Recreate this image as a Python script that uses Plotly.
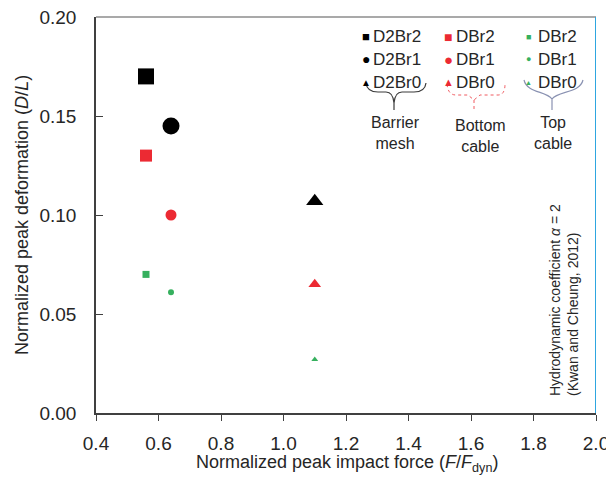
import plotly.graph_objects as go

# ---- data ----
names = ["D2Br2", "D2Br1", "D2Br0", "DBr2", "DBr1", "DBr0", "DBr2", "DBr1", "DBr0"]
groups = ["Barrier mesh"] * 3 + ["Bottom cable"] * 3 + ["Top cable"] * 3
force = [0.56, 0.64, 1.10, 0.56, 0.64, 1.10, 0.56, 0.64, 1.10]
deform = [0.170, 0.145, 0.107, 0.130, 0.100, 0.065, 0.070, 0.061, 0.027]

x_ticks = [0.4, 0.6, 0.8, 1.0, 1.2, 1.4, 1.6, 1.8, 2.0]
y_ticks = [0.00, 0.05, 0.10, 0.15, 0.20]

colors = {"Barrier mesh": "#000000", "Bottom cable": "#ec2a33", "Top cable": "#36b05e"}
symbols = {"2": "square", "1": "circle", "0": "triangle-up"}
sizes = {"Barrier mesh": {"square": 16, "circle": 17, "triangle-up": 15},
         "Bottom cable": {"square": 12, "circle": 11, "triangle-up": 11},
         "Top cable": {"square": 7, "circle": 6, "triangle-up": 6}}

# page is 614x483; browser body has an 8px margin, so the figure is shifted by 8px
OFF = 8
W, H = 614 - OFF, 483 - OFF
# plot area in page pixels
PL, PR, PT, PB = 96, 596, 17, 413
pw, ph = PR - PL, PB - PT

def px(x):
    return (x - PL) / pw

def py(y):
    return (PB - y) / ph

fig = go.Figure()
for n, g, xv, yv in zip(names, groups, force, deform):
    sym = symbols[n[-1]]
    fig.add_trace(go.Scatter(
        x=[xv], y=[yv], mode="markers", name=n, showlegend=False,
        marker=dict(symbol=sym, size=sizes[g][sym], color=colors[g], line=dict(width=0)),
    ))

font = "Liberation Sans, Arial, sans-serif"
txt = "#262626"

# ---- manual legend ----
glyph = {"square": "\u25A0", "circle": "\u25CF", "triangle-up": "\u25B2"}
gsize = {"Barrier mesh": {"square": 13, "circle": 14, "triangle-up": 10},
         "Bottom cable": {"square": 14, "circle": 15, "triangle-up": 11},
         "Top cable": {"square": 9, "circle": 9, "triangle-up": 7}}
col_sym_x = {"Barrier mesh": 366, "Bottom cable": 448, "Top cable": 528}
col_txt_x = {"Barrier mesh": 371, "Bottom cable": 454, "Top cable": 536}
row_y = {"2": 37, "1": 59, "0": 82}
anns = []
for n, g in zip(names, groups):
    sym = symbols[n[-1]]
    anns.append(dict(xref="paper", yref="paper", x=px(col_sym_x[g]), y=py(row_y[n[-1]]),
                     text=glyph[sym], showarrow=False, xanchor="center", yanchor="middle",
                     font=dict(family=font, size=gsize[g][sym], color=colors[g])))
    anns.append(dict(xref="paper", yref="paper", x=px(col_txt_x[g]), y=py(row_y[n[-1]]),
                     text=n, showarrow=False, xanchor="left", yanchor="middle",
                     font=dict(family=font, size=17, color=txt)))

label_pos = {"Barrier mesh": (395, 133), "Bottom cable": (480, 136), "Top cable": (553, 133)}
for g, (lx, ly) in label_pos.items():
    anns.append(dict(xref="paper", yref="paper", x=px(lx), y=py(ly),
                     text=g.replace(" ", "<br>"), showarrow=False, xanchor="center", yanchor="middle",
                     font=dict(family=font, size=16, color=txt)))

anns.append(dict(xref="paper", yref="paper", x=px(564), y=py(398),
                 text="Hydrodynamic coefficient <i>\u03b1</i> = 2<br>(Kwan and Cheung, 2012)",
                 showarrow=False, textangle=-90, xanchor="center", yanchor="bottom", align="left",
                 font=dict(family=font, size=14, color=txt)))

# axis titles
anns.append(dict(xref="paper", yref="paper", x=px(347), y=py(463),
                 text="Normalized peak impact force (<i>F</i>/<i>F</i><sub>dyn</sub>)",
                 showarrow=False, xanchor="center", yanchor="middle",
                 font=dict(family=font, size=18, color=txt)))
anns.append(dict(xref="paper", yref="paper", x=px(22), y=py(215),
                 text="Normalized peak deformation (<i>D</i>/<i>L</i>)",
                 showarrow=False, textangle=-90, xanchor="center", yanchor="middle",
                 font=dict(family=font, size=18, color=txt)))

def path(pts_list):
    s = ""
    for cmd, *pts in pts_list:
        s += cmd
        s += " ".join(f"{px(pts[i]):.4f},{py(pts[i+1]):.4f}" for i in range(0, len(pts), 2)) + " "
    return s.strip()

shapes = []
# black curly brace
shapes.append(dict(type="path", xref="paper", yref="paper", line=dict(color="#3a3a3a", width=1.2),
                   path=path([("M", 366, 83), ("Q", 367, 92, 378, 92), ("L", 386, 92),
                              ("Q", 393, 92, 394, 103), ("Q", 395, 92, 402, 92), ("L", 414, 92),
                              ("Q", 425, 92, 426, 83), ("M", 394, 101), ("L", 394, 110)])))
# red dashed bracket
shapes.append(dict(type="path", xref="paper", yref="paper", line=dict(color="#f05a60", width=1, dash="dot"),
                   path=path([("M", 447, 84), ("Q", 448, 95, 456, 95), ("L", 468, 95),
                              ("L", 474, 100), ("L", 480, 95), ("L", 498, 95),
                              ("Q", 505, 95, 505, 84), ("M", 474, 100), ("L", 474, 109)])))
# blue-gray curly brace
shapes.append(dict(type="path", xref="paper", yref="paper", line=dict(color="#8a92b2", width=1.2),
                   path=path([("M", 524, 80), ("C", 527, 93, 546, 91, 552, 99),
                              ("C", 558, 91, 580, 93, 583, 80), ("M", 552, 98), ("L", 552, 110)])))
# top border (gray) and right blue line
shapes.append(dict(type="line", xref="paper", yref="paper", x0=0, x1=1, y0=1, y1=1,
                   line=dict(color="#8c8c8c", width=1.5)))
shapes.append(dict(type="line", xref="x", yref="paper", x0=2.0, x1=2.0, y0=0, y1=1,
                   line=dict(color="#2ea6e0", width=2)))

fig.update_layout(
    width=W, height=H,
    margin=dict(l=PL - OFF, r=W - (PR - OFF), t=PT - OFF, b=H - (PB - OFF), autoexpand=False),
    paper_bgcolor="white", plot_bgcolor="white",
    font=dict(family=font, color=txt),
    annotations=anns, shapes=shapes,
    xaxis=dict(range=[0.4, 2.0], tickvals=x_ticks, ticktext=[f"{v:.1f}" for v in x_ticks],
               showgrid=False, zeroline=False, showline=True, linecolor="#404040", linewidth=1.5,
               ticks="outside", ticklen=6, tickcolor="#404040", tickwidth=1.2,
               tickfont=dict(size=19, color=txt), ticklabelstandoff=6, automargin=False,
               ticklabeloverflow="allow"),
    yaxis=dict(range=[0, 0.20], tickvals=y_ticks, ticktext=[f"{v:.2f}" for v in y_ticks],
               showgrid=False, zeroline=False, showline=True, linecolor="#404040", linewidth=1.5,
               ticks="inside", ticklen=7, tickcolor="#404040", tickwidth=1.2,
               tickfont=dict(size=19, color=txt), ticklabelstandoff=14, automargin=False,
               ticklabeloverflow="allow"),
)

fig.write_html("out.html")
